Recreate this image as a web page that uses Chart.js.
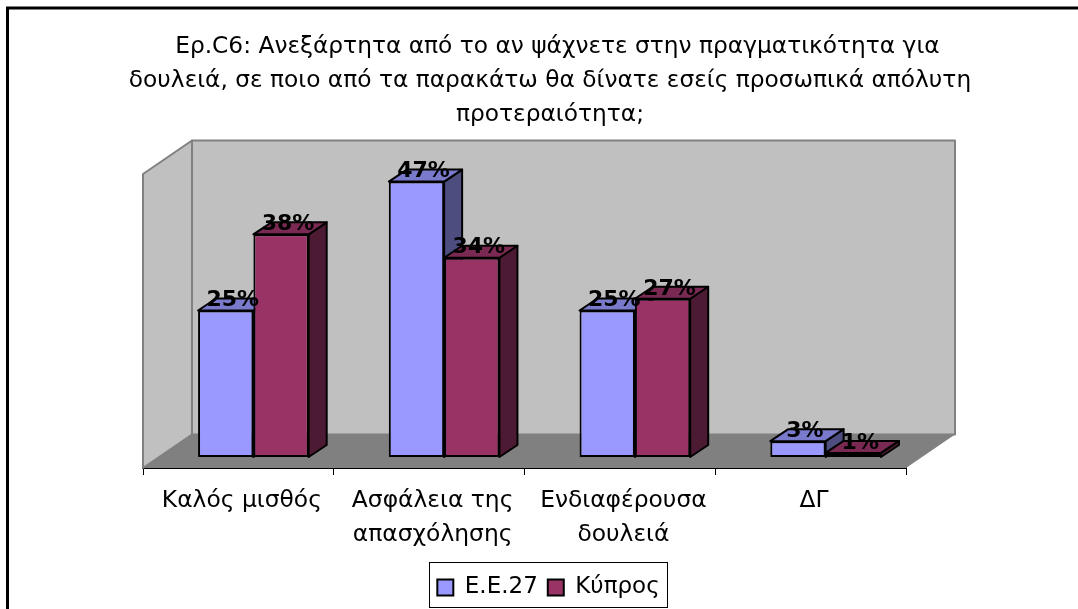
<!DOCTYPE html>
<html>
<head>
<meta charset="utf-8">
<style>
html, body { margin: 0; padding: 0; background: #fff; }
#wrap { width: 1078px; height: 609px; }
</style>
<script src="https://cdn.jsdelivr.net/npm/chart.js@4/dist/chart.umd.js"></script>
</head>
<body>
<div id="wrap"><canvas id="chart" width="1078" height="609"></canvas></div>
<script>
var titleLines = [
    '  Ερ.C6: Ανεξάρτητα από το αν ψάχνετε στην πραγματικότητα για',
    'δουλειά, σε ποιο από τα παρακάτω θα δίνατε εσείς προσωπικά απόλυτη',
    'προτεραιότητα;'
];
var categories = [
    'Καλός μισθός',
    ['Ασφάλεια της', 'απασχόλησης'],
    ['Ενδιαφέρουσα', 'δουλειά'],
    'ΔΓ'
];
var seriesNames = ['Ε.Ε.27', 'Κύπρος'];
var eu27 = [25, 47, 25, 2.7];
var cyprus = [38, 34, 27, 0.7];

var FONT = '"DejaVu Sans"';
var faces = [
    {top: '#7A7ACC', side: '#4D4D80'},
    {top: '#7A2952', side: '#4D1A33'}
];

// excel style 3d box, everything hangs off the chart area
var WALL_DX = 49, WALL_DY = 33.5;
var BAR_DX = 18, BAR_DY = 12;
var BAR_SHIFT = 15;

function poly(ctx, pts, fill, stroke, width) {
    ctx.beginPath();
    ctx.moveTo(pts[0][0], pts[0][1]);
    for (var i = 1; i < pts.length; i++) {
        ctx.lineTo(pts[i][0], pts[i][1]);
    }
    ctx.closePath();
    ctx.fillStyle = fill;
    ctx.fill();
    if (stroke) {
        ctx.strokeStyle = stroke;
        ctx.lineWidth = width;
        ctx.lineJoin = 'round';
        ctx.stroke();
    }
}

var box3d = {
    id: 'box3d',
    afterLayout: function (chart) {
        // the title and the legend are not centred on the plot in the original
        var t = chart.titleBlock;
        t.left = 550 - 500;
        t.right = 550 + 500;
        var l = chart.legend;
        var w = l.width;
        l.left = 548.5 - w / 2;
        l.right = l.left + w;
    },
    beforeDraw: function (chart) {
        var ctx = chart.ctx;
        ctx.save();
        ctx.strokeStyle = '#000';
        ctx.lineWidth = 3;
        ctx.beginPath();
        ctx.moveTo(7.5, 640);
        ctx.lineTo(7.5, 8);
        ctx.lineTo(1078, 8);
        ctx.stroke();
        ctx.restore();
    },
    beforeDatasetsDraw: function (chart) {
        var ctx = chart.ctx, a = chart.chartArea;
        var backL = a.left + WALL_DX, backR = a.right + WALL_DX;
        var backT = a.top - WALL_DY, backB = a.bottom - WALL_DY;
        ctx.save();
        poly(ctx, [[a.left, a.top], [backL, backT], [backL, backB], [a.left, a.bottom]], '#C0C0C0', '#808080', 2);
        poly(ctx, [[backL, backT], [backR, backT], [backR, backB], [backL, backB]], '#C0C0C0', '#808080', 2);
        poly(ctx, [[a.left, a.bottom], [backL, backB], [backR, backB], [a.right, a.bottom]], '#808080', null, 0);
        ctx.restore();
        // bars stand a little deeper in the floor than the axis
        ctx.save();
        ctx.translate(BAR_SHIFT, 0);
        // depth faces go first, chart.js paints the fronts over them afterwards
        chart.data.datasets.forEach(function (ds, i) {
            var c = faces[i];
            chart.getDatasetMeta(i).data.forEach(function (bar) {
                var l = bar.x - bar.width / 2, r = bar.x + bar.width / 2;
                var t = bar.y, b = bar.base;
                poly(ctx, [[r, b], [r + BAR_DX, b - BAR_DY], [r + BAR_DX, t - BAR_DY], [r, t]], c.side, '#000', 2);
                poly(ctx, [[l, t], [l + BAR_DX, t - BAR_DY], [r + BAR_DX, t - BAR_DY], [r, t]], c.top, '#000', 2);
            });
        });
    },
    afterDatasetsDraw: function (chart) {
        var ctx = chart.ctx;
        ctx.restore();
        ctx.save();
        ctx.font = 'bold 22px ' + FONT;
        ctx.fillStyle = '#000';
        ctx.textAlign = 'center';
        ctx.textBaseline = 'middle';
        chart.data.datasets.forEach(function (ds, i) {
            chart.getDatasetMeta(i).data.forEach(function (bar, j) {
                ctx.fillText(Math.round(ds.data[j]) + '%', bar.x + BAR_SHIFT + 7, bar.y - 10);
            });
        });
        ctx.restore();
    },
    afterDraw: function (chart) {
        var ctx = chart.ctx;
        ctx.save();
        ctx.strokeStyle = '#000';
        ctx.lineWidth = 1;
        ctx.strokeRect(429.5, 562.5, 238, 45);
        ctx.restore();
    }
};

new Chart(document.getElementById('chart'), {
    type: 'bar',
    data: {
        labels: categories,
        datasets: [
            {label: seriesNames[0], data: eu27, backgroundColor: '#9999FF', borderColor: '#000', borderWidth: 2, borderSkipped: false},
            {label: seriesNames[1], data: cyprus, backgroundColor: '#993366', borderColor: '#000', borderWidth: 2, borderSkipped: false}
        ]
    },
    options: {
        responsive: false,
        animation: false,
        clip: false,
        layout: {padding: {left: 143, right: 172, top: 0, bottom: 0}},
        datasets: {bar: {barPercentage: 1, categoryPercentage: 0.58}},
        scales: {
            x: {
                grid: {drawOnChartArea: false, offset: true, tickLength: 7, color: '#000', lineWidth: 1},
                border: {color: '#000', width: 2},
                ticks: {color: '#000', maxRotation: 0, autoSkip: false, padding: 9, labelOffset: 3.5, font: {family: FONT, size: 23.4, lineHeight: 1.45}},
                afterFit: function (s) { s.height = 98; }
            },
            y: {display: false, min: -1.88, max: 48.3}
        },
        plugins: {
            title: {
                display: true,
                text: titleLines,
                color: '#000',
                font: {family: FONT, size: 23.3, weight: 'normal', lineHeight: 1.459},
                padding: {top: 30, bottom: 42}
            },
            legend: {
                position: 'bottom',
                labels: {
                    color: '#000',
                    boxWidth: 16,
                    boxHeight: 16,
                    padding: 10,
                    font: {family: FONT, size: 23}
                }
            },
            tooltip: {enabled: false}
        }
    },
    plugins: [box3d]
});
</script>
</body>
</html>
